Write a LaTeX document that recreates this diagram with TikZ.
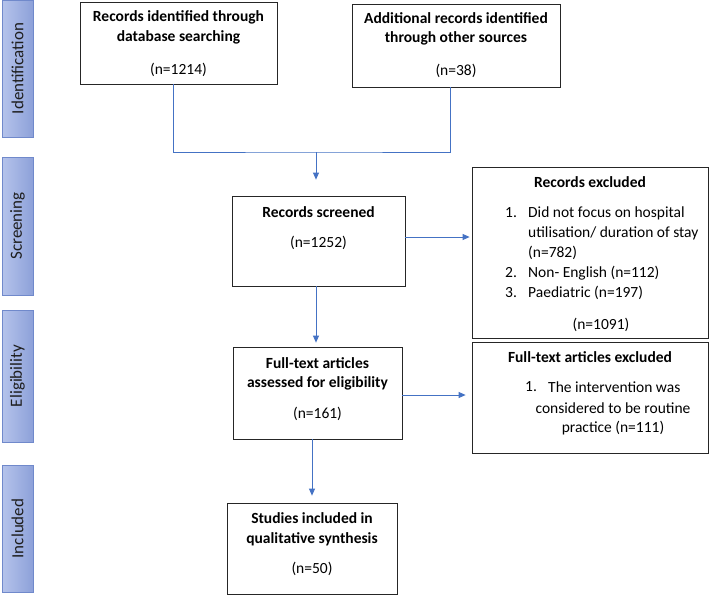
\documentclass[tikz,border=0pt]{standalone}
\usepackage{fontspec}
\setmainfont{Carlito}
\usetikzlibrary{arrows.meta}
\definecolor{conncol}{HTML}{4472C4}
\definecolor{barleft}{HTML}{B5C3EB}
\definecolor{barright}{HTML}{8DA1D9}
\definecolor{bardraw}{HTML}{7089CB}
\definecolor{bartext}{HTML}{1E1E1E}
\begin{document}
\begin{tikzpicture}[x=1pt,y=-1pt,
  box/.style={draw=black!85, line width=0.8pt, fill=white, inner sep=0pt},
  conn/.style={draw=conncol, line width=0.8pt},
  arr/.style={conn, -{Triangle[length=7pt,width=6pt]}},
  txt/.style={inner sep=0pt, font=\fontsize{15.5}{18}\selectfont},
  btxt/.style={inner sep=0pt, font=\fontsize{15.5}{18}\selectfont\bfseries},
  bar/.style={draw=bardraw, line width=0.8pt, left color=barleft, right color=barright, inner sep=0pt},
  bartxt/.style={rotate=90, text=bartext, font=\fontsize{17}{20}\selectfont, inner sep=0pt}]
\useasboundingbox (0,0) rectangle (709,595);
\fill[white] (0,0) rectangle (709,595);

% side bars
\node[bar, minimum width=31pt, minimum height=137pt] (l1) at (17.5,68.5) {};
\node[bartxt] (t1) at (l1.center) {Identification};
\node[bar, minimum width=31pt, minimum height=138pt] (l2) at (17.5,226) {};
\node[bartxt] (t2) at (l2.center) {Screening};
\node[bar, minimum width=31pt, minimum height=132pt] (l3) at (17.5,376) {};
\node[bartxt] (t3) at (l3.center) {Eligibility};
\node[bar, minimum width=31pt, minimum height=127pt] (l4) at (17.5,528.5) {};
\node[bartxt] (t4) at (l4.center) {Included};

% boxes
\node[box, minimum width=197pt, minimum height=82pt] (b1) at (178.5,43) {};
\node[box, minimum width=208pt, minimum height=83pt] (b2) at (456,45.5) {};
\node[box, minimum width=173pt, minimum height=90pt] (scr) at (318.5,241) {};
\node[box, minimum width=236pt, minimum height=171pt] (ex1) at (590,252.5) {};
\node[box, minimum width=169pt, minimum height=92pt] (ft) at (317.5,393) {};
\node[box, minimum width=236pt, minimum height=111pt] (ex2) at (590,397.5) {};
\node[box, minimum width=170pt, minimum height=91pt] (st) at (312,548.5) {};

% texts
\node[btxt] (b1a) at (178.5,17) {Records identified through};
\node[btxt] (b1b) at (178.5,37) {database searching};
\node[txt] (b1c) at (178.5,70) {(n=1214)};

\node[btxt] (b2a) at (456,18) {Additional records identified};
\node[btxt] (b2b) at (456,38) {through other sources};
\node[txt] (b2c) at (456,71) {(n=38)};

\node[btxt] (sa) at (318.5,212) {Records screened};
\node[txt] (sb) at (318.5,243) {(n=1252)};

\node[btxt] (e1t) at (590,182) {Records excluded};
\node[txt, anchor=west] (e1n1) at (505,213) {1.};
\node[txt, anchor=west] (e1a) at (528,213) {Did not focus on hospital};
\node[txt, anchor=west] (e1b) at (528,233) {utilisation/ duration of stay};
\node[txt, anchor=west] (e1c) at (528,253) {(n=782)};
\node[txt, anchor=west] (e1n2) at (505,273) {2.};
\node[txt, anchor=west] (e1d) at (528,273) {Non- English (n=112)};
\node[txt, anchor=west] (e1n3) at (505,293) {3.};
\node[txt, anchor=west] (e1e) at (528,293) {Paediatric (n=197)};
\node[txt] (e1f) at (601,325) {(n=1091)};

\node[btxt] (fa) at (317.5,363) {Full-text articles};
\node[btxt] (fb) at (317.5,383) {assessed for eligibility};
\node[txt] (fc) at (317.5,414) {(n=161)};

\node[btxt] (e2t) at (590,357) {Full-text articles excluded};
\node[txt, anchor=west] (e2n1) at (525,387) {1.};
\node[txt, anchor=west] (e2a) at (548,387) {The intervention was};
\node[txt] (e2b) at (613,408) {considered to be routine};
\node[txt] (e2c) at (613,428) {practice (n=111)};

\node[btxt] (sta) at (312,518) {Studies included in};
\node[btxt] (stb) at (312,539) {qualitative synthesis};
\node[txt] (stc) at (312,569) {(n=50)};

% connectors
\coordinate (j) at (316,152);
\draw[conn] ([xshift=-5.5pt]b1.south) |- (j) -| ([xshift=-6pt]b2.south);
\draw[arr, shorten >=16pt] (j) -- (j |- scr.north);
\draw[arr, shorten >=2pt] ([yshift=4pt]scr.east) -- ([yshift=4pt]scr.east -| ex1.west);
\draw[arr, shorten >=4pt] ([xshift=-2.5pt]scr.south) -- ([xshift=-2.5pt]scr.south |- ft.north);
\draw[arr, shorten >=6pt] ([yshift=-2pt]ft.east) -- ([yshift=-2pt]ft.east -| ex2.west);
\draw[arr, shorten >=7pt] (st.north |- ft.south) -- (st.north);
\end{tikzpicture}
\end{document}
